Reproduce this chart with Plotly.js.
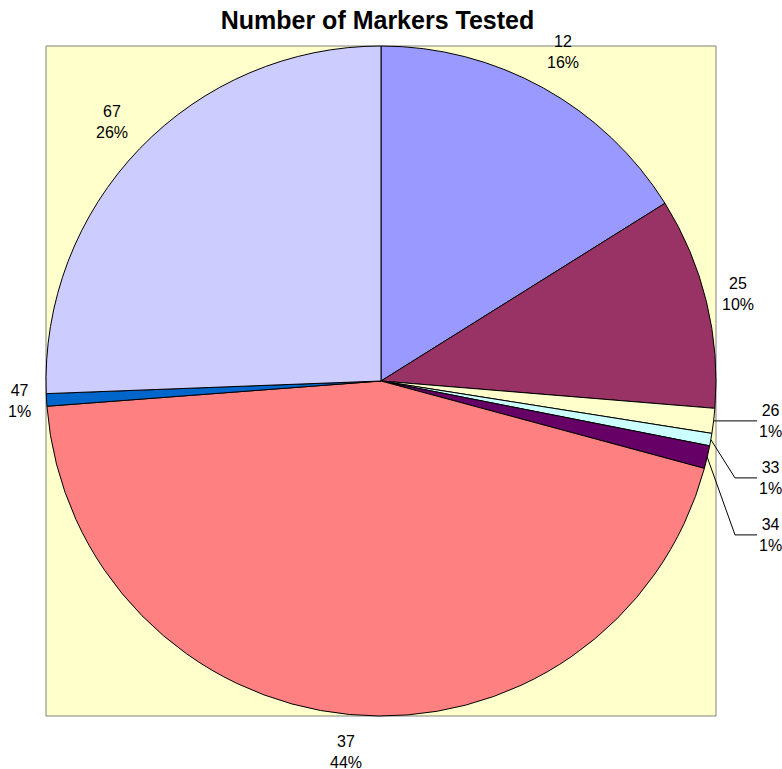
<!DOCTYPE html>
<html>
<head>
<meta charset="utf-8">
<script src="https://cdn.plot.ly/plotly-3.0.1.min.js"></script>
<style>html,body{margin:0;padding:0;background:#fff;}#chart{width:782px;height:769px;}</style>
</head>
<body>
<div id="chart"></div>
<script>
const categories = ["12", "25", "26", "33", "34", "37", "47", "67"];
const values = [16.1, 10.2, 1.2, 0.6, 1.1, 44.6, 0.6, 25.6];
const percentLabels = ["16%", "10%", "1%", "1%", "1%", "44%", "1%", "26%"];
const colors = ["#9999FF", "#993366", "#FFFFCC", "#CCFFFF", "#660066", "#FF8080", "#0066CC", "#CCCCFF"];

const W = 782, H = 769;
const M = {l: 46, r: 66, t: 46, b: 53};
const plotW = W - M.l - M.r, plotH = H - M.t - M.b;
const R = Math.min(plotW, plotH) / 2;
const cx = M.l + plotW / 2, cy = M.t + plotH / 2;
const FONT = "Liberation Sans, Arial, sans-serif";
const FS = 16;

const toPX = px => (px - M.l) / plotW;
const toPY = py => (M.t + plotH - py) / plotH;

function textWidth(s) {
  let w = 0;
  for (const ch of s) w += (ch === "%") ? 0.889 : 0.556;
  return w * FS;
}

const total = values.reduce((a, b) => a + b, 0);
const annotations = [];
const shapes = [{
  type: "rect", xref: "paper", yref: "paper", x0: 0, x1: 1, y0: 0, y1: 1,
  fillcolor: "#FFFFCC", line: {color: "#808080", width: 1}, layer: "below"
}];

let cum = 0;
let lastLeaderY = -Infinity;
const gap = 16, hh = 22;
values.forEach((v, i) => {
  const frac = v / total;
  const th = (cum + frac / 2) * 2 * Math.PI;
  cum += frac;
  const sx = Math.sin(th), sy = -Math.cos(th);
  const ex = cx + R * sx, ey = cy + R * sy;
  const txt = categories[i] + "<br>" + percentLabels[i];
  if (frac < 0.015 && sx > 0) {
    // small slice on the right: stacked label with a leader line
    const ly = Math.max(ey, lastLeaderY + 57);
    lastLeaderY = ly;
    const endX = cx + R + 41;
    const elbowX = endX - 22;
    const labX = endX + 14;
    annotations.push({
      xref: "paper", yref: "paper", x: toPX(labX), y: toPY(ly),
      xanchor: "center", yanchor: "middle", showarrow: false, align: "center",
      text: txt, font: {family: FONT, size: FS, color: "#000000"}
    });
    shapes.push({
      type: "path", xref: "paper", yref: "paper", layer: "above",
      path: "M" + toPX(ex) + "," + toPY(ey) + " L" + toPX(elbowX) + "," + toPY(ly) + " L" + toPX(endX) + "," + toPY(ly),
      line: {color: "#000000", width: 1}
    });
  } else {
    const hw = Math.max(textWidth(categories[i]), textWidth(percentLabels[i])) / 2;
    const ext = Math.min(Math.abs(sx) > 1e-6 ? hw / Math.abs(sx) : 1e9, Math.abs(sy) > 1e-6 ? hh / Math.abs(sy) : 1e9);
    const d = R + gap + ext;
    annotations.push({
      xref: "paper", yref: "paper", x: toPX(cx + d * sx), y: toPY(cy + d * sy),
      xanchor: "center", yanchor: "middle", showarrow: false, align: "center",
      text: txt, font: {family: FONT, size: FS, color: "#000000"}
    });
  }
});

const trace = {
  type: "pie",
  labels: categories,
  values: values,
  textinfo: "none",
  textposition: "none",
  sort: false,
  direction: "clockwise",
  rotation: 0,
  marker: {colors: colors, line: {color: "#000000", width: 1}},
  hoverinfo: "label+percent",
  showlegend: false,
  automargin: false
};

const layout = {
  width: W,
  height: H,
  margin: {l: M.l, r: M.r, t: M.t, b: M.b, pad: 0},
  paper_bgcolor: "#FFFFFF",
  title: {
    text: "<b>Number of Markers Tested</b>",
    font: {family: FONT, size: 25, color: "#000000"},
    x: 0.4827, xanchor: "center", y: 0.974, yanchor: "middle"
  },
  shapes: shapes,
  annotations: annotations,
  showlegend: false
};

Plotly.newPlot("chart", [trace], layout, {displayModeBar: false, staticPlot: true});
</script>
</body>
</html>
